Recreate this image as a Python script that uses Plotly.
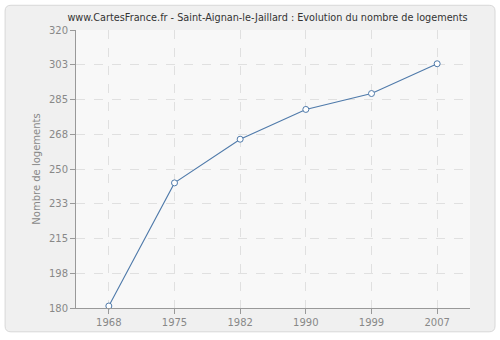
import plotly.graph_objects as go

years = ["1968", "1975", "1982", "1990", "1999", "2007"]
logements = [181, 243, 265, 280, 288, 303]
y_tick_vals = [180, 197.5, 215, 232.5, 250, 267.5, 285, 302.5, 320]
y_tick_text = ["180", "198", "215", "233", "250", "268", "285", "303", "320"]

title = "www.CartesFrance.fr - Saint-Aignan-le-Jaillard : Evolution du nombre de logements"

x0, x1, yb, yt = -0.180, 1.0635, -0.0857, 1.089
rx, ry = 0.015, 0.021
outer_path = (
    f"M {x0+rx},{yb} L {x1-rx},{yb} Q {x1},{yb} {x1},{yb+ry} "
    f"L {x1},{yt-ry} Q {x1},{yt} {x1-rx},{yt} "
    f"L {x0+rx},{yt} Q {x0},{yt} {x0},{yt-ry} "
    f"L {x0},{yb+ry} Q {x0},{yb} {x0+rx},{yb} Z"
)

fig = go.Figure()
fig.add_trace(go.Scatter(
    x=years, y=logements, mode="lines+markers",
    line=dict(color="#4f7aaa", width=1.1),
    marker=dict(symbol="circle", size=6, color="white",
                line=dict(color="#4f7aaa", width=1)),
    cliponaxis=False, showlegend=False,
))

fig.update_layout(
    width=500, height=340,
    margin=dict(l=76, r=30, t=30, b=30),
    paper_bgcolor="white",
    plot_bgcolor="#f8f8f8",
    font=dict(family="DejaVu Sans", size=10, color="#888888"),
    title=dict(text=title, x=0.535, xanchor="center", y=0.948, yanchor="middle",
               font=dict(family="DejaVu Sans", size=9.7, color="#333333")),
    shapes=[
        dict(type="path", xref="paper", yref="paper", layer="below",
             path=outer_path, fillcolor="#f0f0f0", line=dict(color="#d8d8d8", width=1)),
        dict(type="rect", xref="paper", yref="paper", layer="below",
             x0=0, x1=1, y0=0, y1=1, fillcolor="#f8f8f8", line=dict(width=0)),
    ],
)
fig.update_xaxes(
    type="category", range=[-0.5, 5.5],
    showline=True, linecolor="#999999", linewidth=1,
    ticks="outside", ticklen=5, tickcolor="#999999",
    showgrid=True, gridcolor="#e0e0e0", griddash="dash", gridwidth=1,
    tickfont=dict(size=10, color="#888888"), zeroline=False,
)
fig.update_yaxes(
    range=[180, 320], tickvals=y_tick_vals, ticktext=y_tick_text,
    showline=True, linecolor="#999999", linewidth=1,
    ticks="outside", ticklen=5, tickcolor="#999999",
    showgrid=True, gridcolor="#e0e0e0", griddash="dash", gridwidth=1,
    tickfont=dict(size=10, color="#888888"), zeroline=False,
    title=dict(text="Nombre de logements", font=dict(size=10, color="#888888"), standoff=6),
)

fig.write_html("out.html")
